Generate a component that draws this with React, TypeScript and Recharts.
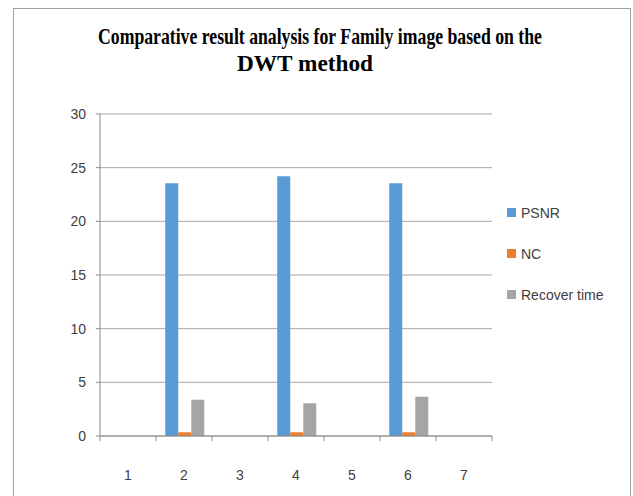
import React from 'react';
import { BarChart, Bar, XAxis, YAxis, CartesianGrid } from 'recharts';

const CATEGORIES = ['1', '2', '3', '4', '5', '6', '7'];
const PSNR = [null, 23.54, null, 24.2, null, 23.54, null];
const NC = [null, 0.35, null, 0.35, null, 0.35, null];
const RECOVER = [null, 3.38, null, 3.05, null, 3.66, null];
const Y_TICKS = [0, 5, 10, 15, 20, 25, 30];
const SERIES = [
  { key: 'PSNR', name: 'PSNR', color: '#5B9BD5' },
  { key: 'NC', name: 'NC', color: '#ED7D31' },
  { key: 'Recover', name: 'Recover time', color: '#A5A5A5' },
];
const TITLE_1 = 'Comparative result analysis for Family image based on the';
const TITLE_2 = 'DWT method';

const data = CATEGORIES.map((c, i) => ({ cat: c, PSNR: PSNR[i], NC: NC[i], Recover: RECOVER[i] }));

const W = 633;
const H = 496;
const PLOT_LEFT = 100;
const PLOT_RIGHT = 492;
const HALF_BAND = (PLOT_RIGHT - PLOT_LEFT) / CATEGORIES.length / 2;
const AXIS_COLOR = '#8a8a8a';
const FONT = '"Liberation Sans", Arial, sans-serif';
const SERIF = '"Liberation Serif", "Times New Roman", serif';
const TITLE_SY = 1.15;

const XTick = (props: any) => {
  const { x, y, payload, index } = props;
  const last = index === CATEGORIES.length - 1;
  return (
    <g>
      <line x1={x - HALF_BAND} x2={x - HALF_BAND} y1={y} y2={y + 5} stroke={AXIS_COLOR} />
      {last && <line x1={x + HALF_BAND} x2={x + HALF_BAND} y1={y} y2={y + 5} stroke={AXIS_COLOR} />}
      <text x={x} y={y + 44} textAnchor="middle" fontFamily={FONT} fontSize={14} fill="#404040">
        {payload.value}
      </text>
    </g>
  );
};

export default function App() {
  return (
    <div style={{ position: 'absolute', left: 0, top: 0, width: W, height: H, background: '#fff' }}>
      <BarChart
        width={W}
        height={H}
        data={data}
        margin={{ top: 114, right: W - PLOT_RIGHT, bottom: 30, left: 0 }}
        barCategoryGap="16.5%"
        barGap={0}
      >
        <CartesianGrid vertical={false} stroke="#a6a6a6" />
        <XAxis
          dataKey="cat"
          height={30}
          tickSize={0}
          tickMargin={0}
          tickLine={false}
          axisLine={{ stroke: AXIS_COLOR }}
          tick={<XTick />}
          interval={0}
        />
        <YAxis
          width={PLOT_LEFT}
          domain={[0, 30]}
          ticks={Y_TICKS}
          interval={0}
          tickSize={4}
          tickMargin={10}
          tickLine={{ stroke: AXIS_COLOR }}
          axisLine={{ stroke: AXIS_COLOR }}
          tick={{ fontFamily: FONT, fontSize: 14, fill: '#404040' }}
        />
        {SERIES.map((s) => (
          <Bar key={s.key} dataKey={s.key} name={s.name} fill={s.color} isAnimationActive={false} />
        ))}
      </BarChart>
      <svg
        width={W}
        height={H}
        style={{ position: 'absolute', left: 0, top: 0, pointerEvents: 'none' }}
      >
        <rect x={13.5} y={8.5} width={617} height={520} fill="none" stroke="#a0a0a0" />
        <g transform={`scale(1,${TITLE_SY})`}>
          <text
            x={98}
            y={44 / TITLE_SY}
            textLength={444}
            lengthAdjust="spacingAndGlyphs"
            fontFamily={SERIF}
            fontWeight="bold"
            fontSize={20}
            fill="#000"
          >
            {TITLE_1}
          </text>
          <text
            x={237}
            y={71 / TITLE_SY}
            textLength={136}
            lengthAdjust="spacingAndGlyphs"
            fontFamily={SERIF}
            fontWeight="bold"
            fontSize={20}
            fill="#000"
          >
            {TITLE_2}
          </text>
        </g>
        {SERIES.map((s, i) => (
          <g key={s.key}>
            <rect x={507} y={208 + i * 41} width={9} height={9} fill={s.color} />
            <text x={521} y={218 + i * 41} fontFamily={FONT} fontSize={14} fill="#404040">
              {s.name}
            </text>
          </g>
        ))}
      </svg>
    </div>
  );
}
